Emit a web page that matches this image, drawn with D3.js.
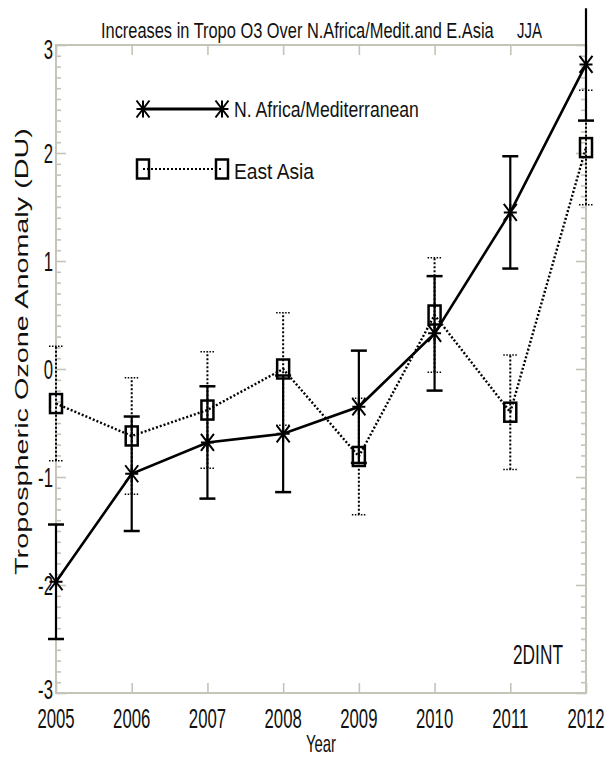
<!DOCTYPE html>
<html>
<head>
<meta charset="utf-8">
<script src="https://cdn.jsdelivr.net/npm/d3@7"></script>
<style>
  html, body { margin: 0; padding: 0; background: #fff; }
  svg { display: block; }
  text { font-family: "Liberation Sans", Arial, Helvetica, sans-serif; fill: #111; }
</style>
</head>
<body>
<svg id="chart" width="605" height="758"></svg>
<script>
// ---------------- data ----------------
const years = [2005, 2006, 2007, 2008, 2009, 2010, 2011, 2012];
const naValues = [-1.97, -0.97, -0.68, -0.60, -0.35, 0.33, 1.45, 2.82];
const naErrors = [0.53, 0.53, 0.52, 0.54, 0.52, 0.53, 0.52, 0.52];
const eaValues = [-0.32, -0.62, -0.38, 0.00, -0.81, 0.50, -0.40, 2.05];
const eaErrors = [0.53, 0.54, 0.54, 0.52, 0.54, 0.53, 0.53, 0.53];
const yTicks = [-3, -2, -1, 0, 1, 2, 3];
const xTickLabels = ["2005", "2006", "2007", "2008", "2009", "2010", "2011", "2012"];
const seriesNames = ["N. Africa/Mediterranean", "East Asia"];
const titleText = "Increases in Tropo O3 Over N.Africa/Medit.and E.Asia";
const seasonText = "JJA";
const tagText = "2DINT";
const xTitle = "Year";
const yTitle = "Tropospheric Ozone Anomaly (DU)";

// ---------------- layout ----------------
const svg = d3.select("#chart");
const L = 56, R = 586, T = 45, B = 693;
const x = d3.scaleLinear().domain([2005, 2012]).range([L, R]);
const y = d3.scaleLinear().domain([-3, 3]).range([B, T]);
const axisColor = "#c4c4b8";
const SX = 0.62; // horizontal squeeze of glyphs

function sText(g, px, py, str, fs, anchor) {
  return g.append("text")
    .attr("transform", `translate(${px},${py}) scale(${SX},1)`)
    .attr("text-anchor", anchor || "start")
    .attr("font-size", fs)
    .text(str);
}
// text squeezed to a given width (left-anchored)
function fitText(g, px, py, str, fs, width, rotate) {
  const t = g.append("text").attr("font-size", fs).text(str);
  const natural = t.node().getComputedTextLength() || width;
  const k = width / natural;
  if (rotate) {
    t.attr("text-anchor", "middle")
     .attr("transform", `translate(${px},${py}) rotate(-90) scale(${k},1)`);
  } else {
    t.attr("transform", `translate(${px},${py}) scale(${k},1)`);
  }
  return t;
}

// ---------------- axes ----------------
const minor = d3.range(-30, 31).filter(v => v % 10 !== 0).map(v => v / 10);

function styleAxis(g) {
  g.select(".domain").remove();
  g.selectAll(".tick line").attr("stroke", axisColor).attr("stroke-width", 1.6);
}

svg.append("g").attr("transform", `translate(0,${B})`)
  .call(d3.axisBottom(x).tickValues(years).tickSize(-10).tickFormat(""))
  .call(styleAxis);
svg.append("g").attr("transform", `translate(0,${T})`)
  .call(d3.axisTop(x).tickValues(years).tickSize(-10).tickFormat(""))
  .call(styleAxis);
svg.append("g").attr("transform", `translate(${L},0)`)
  .call(d3.axisLeft(y).tickValues(yTicks).tickSize(-10).tickFormat(""))
  .call(styleAxis);
svg.append("g").attr("transform", `translate(${L},0)`)
  .call(d3.axisLeft(y).tickValues(minor).tickSize(-5).tickFormat(""))
  .call(styleAxis);
svg.append("g").attr("transform", `translate(${R},0)`)
  .call(d3.axisRight(y).tickValues(yTicks).tickSize(-10).tickFormat(""))
  .call(styleAxis);
svg.append("g").attr("transform", `translate(${R},0)`)
  .call(d3.axisRight(y).tickValues(minor).tickSize(-5).tickFormat(""))
  .call(styleAxis);

svg.append("rect")
  .attr("x", L).attr("y", T).attr("width", R - L).attr("height", B - T)
  .attr("fill", "none").attr("stroke", axisColor).attr("stroke-width", 2);

// tick labels
const labels = svg.append("g");
yTicks.forEach((v, i) => {
  const off = v === 3 ? 14 : (v === -3 ? 6 : 10);
  sText(labels, L - 3, y(v) + off, String(v), 27, "end");
});
years.forEach((yr, i) => {
  sText(labels, x(yr), 728, xTickLabels[i], 27, "middle");
});

// titles
fitText(svg, 101, 38, titleText, 22, 393);
fitText(svg, 517, 38, seasonText, 22, 25);
fitText(svg, 513, 664, tagText, 27, 50);
sText(svg, (L + R) / 2, 752, xTitle, 24, "middle");
fitText(svg, 28, (128 + 575) / 2, yTitle, 18, 447, true);

// ---------------- marks ----------------
const plot = svg.append("g");
const dotDash = "2,2";

function asterisk(g, cx, cy) {
  const w = 6.5, h = 8.5;
  g.append("path")
    .attr("d", `M${cx - w},${cy}L${cx + w},${cy}M${cx},${cy - h}L${cx},${cy + h}` +
               `M${cx - w},${cy - h}L${cx + w},${cy + h}M${cx - w},${cy + h}L${cx + w},${cy - h}`)
    .attr("stroke", "#000").attr("stroke-width", 2).attr("fill", "none");
}
function square(g, cx, cy) {
  g.append("rect").attr("x", cx - 6).attr("y", cy - 9.5).attr("width", 12).attr("height", 19)
    .attr("fill", "none").attr("stroke", "#000").attr("stroke-width", 2.5);
}

// East Asia error bars (dotted)
years.forEach((yr, i) => {
  const lo = eaValues[i] - eaErrors[i], hi = eaValues[i] + eaErrors[i];
  const cx = x(yr);
  plot.append("line").attr("x1", cx).attr("x2", cx).attr("y1", y(lo)).attr("y2", y(hi))
    .attr("stroke", "#000").attr("stroke-width", 2).attr("stroke-dasharray", dotDash);
  [lo, hi].forEach(v => {
    plot.append("line").attr("x1", cx - 7).attr("x2", cx + 7).attr("y1", y(v)).attr("y2", y(v))
      .attr("stroke", "#000").attr("stroke-width", 1.5).attr("stroke-dasharray", "1.5,1.5");
  });
});

// East Asia line
const lineGen = d3.line().x(d => x(d[0])).y(d => y(d[1]));
plot.append("path").datum(years.map((yr, i) => [yr, eaValues[i]]))
  .attr("d", lineGen).attr("fill", "none").attr("stroke", "#000")
  .attr("stroke-width", 2.4).attr("stroke-dasharray", dotDash);

// N. Africa error bars (solid)
years.forEach((yr, i) => {
  const lo = naValues[i] - naErrors[i], hi = naValues[i] + naErrors[i];
  const cx = x(yr);
  plot.append("line").attr("x1", cx).attr("x2", cx).attr("y1", y(lo)).attr("y2", y(hi))
    .attr("stroke", "#000").attr("stroke-width", 2.2);
  [lo, hi].forEach(v => {
    if (v <= 3 && v >= -3) {
      plot.append("line").attr("x1", cx - 8).attr("x2", cx + 8).attr("y1", y(v)).attr("y2", y(v))
        .attr("stroke", "#000").attr("stroke-width", 2.5);
    }
  });
});

// N. Africa line
plot.append("path").datum(years.map((yr, i) => [yr, naValues[i]]))
  .attr("d", lineGen).attr("fill", "none").attr("stroke", "#000").attr("stroke-width", 2.6);

years.forEach((yr, i) => square(plot, x(yr), y(eaValues[i])));
years.forEach((yr, i) => asterisk(plot, x(yr), y(naValues[i])));

// ---------------- legend ----------------
const lg = svg.append("g");
lg.append("line").attr("x1", 143).attr("x2", 222).attr("y1", 109).attr("y2", 109)
  .attr("stroke", "#000").attr("stroke-width", 2.8);
asterisk(lg, 143, 109); asterisk(lg, 222, 109);
fitText(lg, 234, 117, seriesNames[0], 22, 185);

lg.append("line").attr("x1", 143).attr("x2", 222).attr("y1", 169).attr("y2", 169)
  .attr("stroke", "#000").attr("stroke-width", 2.2).attr("stroke-dasharray", dotDash);
square(lg, 143, 169); square(lg, 222, 169);
fitText(lg, 234, 179, seriesNames[1], 22, 80);
</script>
</body>
</html>
